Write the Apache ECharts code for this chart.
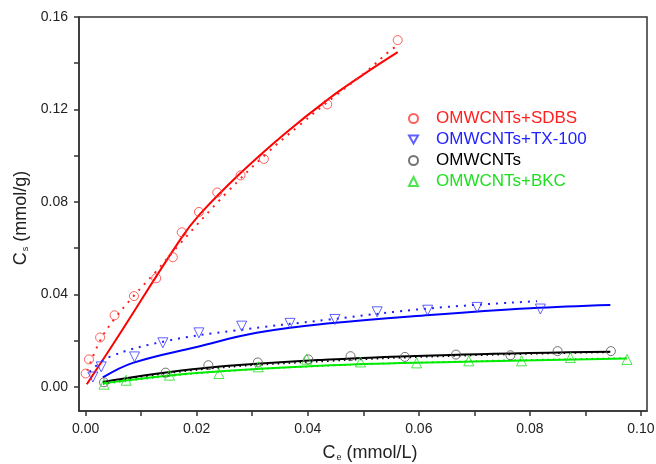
<!DOCTYPE html>
<html>
<head>
<meta charset="utf-8">
<script src="https://cdn.jsdelivr.net/npm/echarts@6/dist/echarts.min.js"></script>
<style>html,body{margin:0;padding:0;background:#fff}#c{width:656px;height:464px}</style>
</head>
<body>
<div id="c"></div>
<script>
// ---- data ----
const xTickLabels = [0, 0.02, 0.04, 0.06, 0.08, 0.10];
const xTicks = [0, 0.01, 0.02, 0.03, 0.04, 0.05, 0.06, 0.07, 0.08, 0.09, 0.10];
const yTickLabels = [0, 0.04, 0.08, 0.12, 0.16];
const yTicks = [0, 0.02, 0.04, 0.06, 0.08, 0.10, 0.12, 0.14, 0.16];

const seriesNames = ['OMWCNTs+SDBS', 'OMWCNTs+TX-100', 'OMWCNTs', 'OMWCNTs+BKC'];

// OMWCNTs+SDBS
const sdbsX = [0.0000, 0.0006, 0.0026, 0.0052, 0.0087, 0.0127, 0.0157, 0.0173, 0.0204, 0.0237, 0.0279, 0.0321, 0.0435, 0.0562];
const sdbsY = [0.0058, 0.0119, 0.0214, 0.0310, 0.0393, 0.0470, 0.0561, 0.0669, 0.0757, 0.0841, 0.0915, 0.0986, 0.1222, 0.1500];
const sdbsFitX = [0.0002, 0.0054, 0.0170, 0.0205, 0.0279, 0.0356, 0.0437, 0.0500, 0.0562];
const sdbsFitY = [0.0012, 0.0202, 0.0636, 0.0745, 0.0925, 0.1090, 0.1245, 0.1351, 0.1448];
const sdbsFit2X = [0.0003, 0.0026, 0.0052, 0.0087, 0.0127, 0.0170, 0.0254, 0.0326, 0.0386, 0.0452, 0.0506, 0.0545, 0.0560];
const sdbsFit2Y = [0.0070, 0.0200, 0.0295, 0.0395, 0.0500, 0.0620, 0.0840, 0.1010, 0.1134, 0.1264, 0.1365, 0.1448, 0.1474];

// OMWCNTs+TX-100
const txX = [0.0013, 0.0028, 0.0088, 0.0139, 0.0204, 0.0281, 0.0368, 0.0449, 0.0525, 0.0616, 0.0705, 0.0819];
const txY = [0.0043, 0.0087, 0.0130, 0.0191, 0.0234, 0.0263, 0.0275, 0.0292, 0.0325, 0.0332, 0.0344, 0.0337];
const txFitX = [0.0031, 0.0085, 0.0200, 0.0308, 0.0440, 0.0620, 0.0801, 0.0945];
const txFitY = [0.0041, 0.0104, 0.0173, 0.0234, 0.0275, 0.0311, 0.0340, 0.0354];
const txFit2X = [0.0007, 0.0043, 0.0146, 0.0266, 0.0440, 0.0620, 0.0813];
const txFit2Y = [0.0065, 0.0130, 0.0199, 0.0243, 0.0292, 0.0340, 0.0371];

// OMWCNTs
const omX = [0.0033, 0.0144, 0.0221, 0.0310, 0.0401, 0.0477, 0.0575, 0.0667, 0.0765, 0.0850, 0.0946];
const omY = [0.0020, 0.0062, 0.0094, 0.0106, 0.0119, 0.0133, 0.0130, 0.0140, 0.0137, 0.0155, 0.0155];
const omFitX = [0.0031, 0.0206, 0.0440, 0.0680, 0.0945];
const omFitY = [0.0022, 0.0080, 0.0119, 0.0140, 0.0152];
const omFit2X = [0.0031, 0.0206, 0.0440, 0.0680, 0.0945];
const omFit2Y = [0.0018, 0.0075, 0.0112, 0.0135, 0.0150];

// OMWCNTs+BKC
const bkcX = [0.0033, 0.0073, 0.0151, 0.0240, 0.0311, 0.0398, 0.0495, 0.0596, 0.0690, 0.0785, 0.0873, 0.0975];
const bkcY = [0.0012, 0.0029, 0.0051, 0.0058, 0.0087, 0.0120, 0.0108, 0.0104, 0.0113, 0.0113, 0.0127, 0.0119];
const bkcFitX = [0.0031, 0.0200, 0.0440, 0.0700, 0.0975];
const bkcFitY = [0.0015, 0.0060, 0.0094, 0.0110, 0.0123];
const bkcFit2X = [0.0031, 0.0200, 0.0440, 0.0700, 0.0975];
const bkcFit2Y = [0.0012, 0.0058, 0.0092, 0.0112, 0.0125];

// ---- build chart ----
const pairs = (xs, ys) => xs.map((x, i) => [x, ys[i]]);
const FONT = '"Liberation Sans", Arial, sans-serif';
const AX = '#333';
const DOWN_TRI = 'path://M0,0 L10,0 L5,9 Z';

function scatter(name, xs, ys, symbol, color, size) {
  return {
    name, type: 'scatter', data: pairs(xs, ys), symbol, symbolSize: size,
    itemStyle: { color: 'rgba(255,255,255,0)', borderColor: color, borderWidth: 1 },
    z: 3
  };
}
function fit(name, xs, ys, color, type, width) {
  return {
    name, type: 'line', data: pairs(xs, ys), showSymbol: false, smooth: 0.4,
    lineStyle: { color, width, type }, z: 2, silent: true
  };
}

const chart = echarts.init(document.getElementById('c'));
chart.setOption({
  animation: false,
  backgroundColor: '#fff',
  grid: { left: 79, top: 17, right: 9, bottom: 53, show: true, borderColor: AX, borderWidth: 1.5,
          outerBoundsMode: 'none', containLabel: false },
  xAxis: {
    type: 'value', min: -0.0012, max: 0.1011,
    axisLine: { show: true, onZero: false, lineStyle: { color: AX, width: 1.5 } },
    axisTick: { show: true, customValues: xTicks, length: 5, lineStyle: { color: AX, width: 1.5 } },
    axisLabel: { customValues: xTickLabels, formatter: v => v.toFixed(2), fontSize: 14, color: '#222', fontFamily: FONT, margin: 11 },
    splitLine: { show: false },
    name: '{a|C}{s|e}{a| (mmol/L)}', nameLocation: 'middle', nameGap: 33,
    nameTextStyle: { fontFamily: FONT, color: '#222', padding: [0, 0, 0, 14], rich: {
      a: { fontSize: 18, fontFamily: FONT, color: '#222' },
      s: { fontSize: 9, fontFamily: FONT, color: '#222', padding: [9, 0, 0, 1] }
    } }
  },
  yAxis: {
    type: 'value', min: -0.0104, max: 0.16,
    axisLine: { show: true, onZero: false, lineStyle: { color: AX, width: 1.5 } },
    axisTick: { show: true, customValues: yTicks, length: 5, lineStyle: { color: AX, width: 1.5 } },
    axisLabel: { customValues: yTickLabels, formatter: v => v.toFixed(2), fontSize: 14, color: '#222', fontFamily: FONT, margin: 11 },
    splitLine: { show: false },
    name: '{a|C}{s|s}{a| (mmol/g)}', nameLocation: 'middle', nameGap: 48,
    nameTextStyle: { fontFamily: FONT, color: '#222', padding: [0, 8, 0, 0], rich: {
      a: { fontSize: 18, fontFamily: FONT, color: '#222' },
      s: { fontSize: 9, fontFamily: FONT, color: '#222', padding: [9, 0, 0, 1] }
    } }
  },
  legend: {
    data: [
      { name: seriesNames[0], textStyle: { color: '#ff2020' } },
      { name: seriesNames[1], icon: DOWN_TRI, textStyle: { color: '#2222ff' } },
      { name: seriesNames[2], textStyle: { color: '#000000' } },
      { name: seriesNames[3], textStyle: { color: '#1ee01e' } }
    ],
    orient: 'vertical', left: 403, top: 105,
    itemWidth: 9, itemHeight: 9, itemGap: 4,
    textStyle: { fontSize: 17, lineHeight: 17, fontFamily: FONT, padding: [0, 0, 0, 13] },
    selectedMode: false
  },
  series: [
    fit('sdbsFit', sdbsFitX, sdbsFitY, '#ff0000', 'solid', 2),
    fit('sdbsFit2', sdbsFit2X, sdbsFit2Y, '#ff2020', [2, 6], 2),
    fit('txFit', txFitX, txFitY, '#0000ff', 'solid', 2),
    fit('txFit2', txFit2X, txFit2Y, '#2020ff', [2, 6], 2),
    fit('omFit', omFitX, omFitY, '#000000', 'solid', 2),
    fit('omFit2', omFit2X, omFit2Y, '#000000', [1.5, 4], 1.5),
    fit('bkcFit', bkcFitX, bkcFitY, '#00ee00', 'solid', 2),
    fit('bkcFit2', bkcFit2X, bkcFit2Y, '#00dd00', [1.5, 4], 1.5),
    scatter(seriesNames[0], sdbsX, sdbsY, 'circle', '#ff3838', 9),
    scatter(seriesNames[1], txX, txY, DOWN_TRI, '#3838ff', 10),
    scatter(seriesNames[2], omX, omY, 'circle', '#505050', 9),
    scatter(seriesNames[3], bkcX, bkcY, 'triangle', '#22dd22', 10)
  ]
});
</script>
</body>
</html>
